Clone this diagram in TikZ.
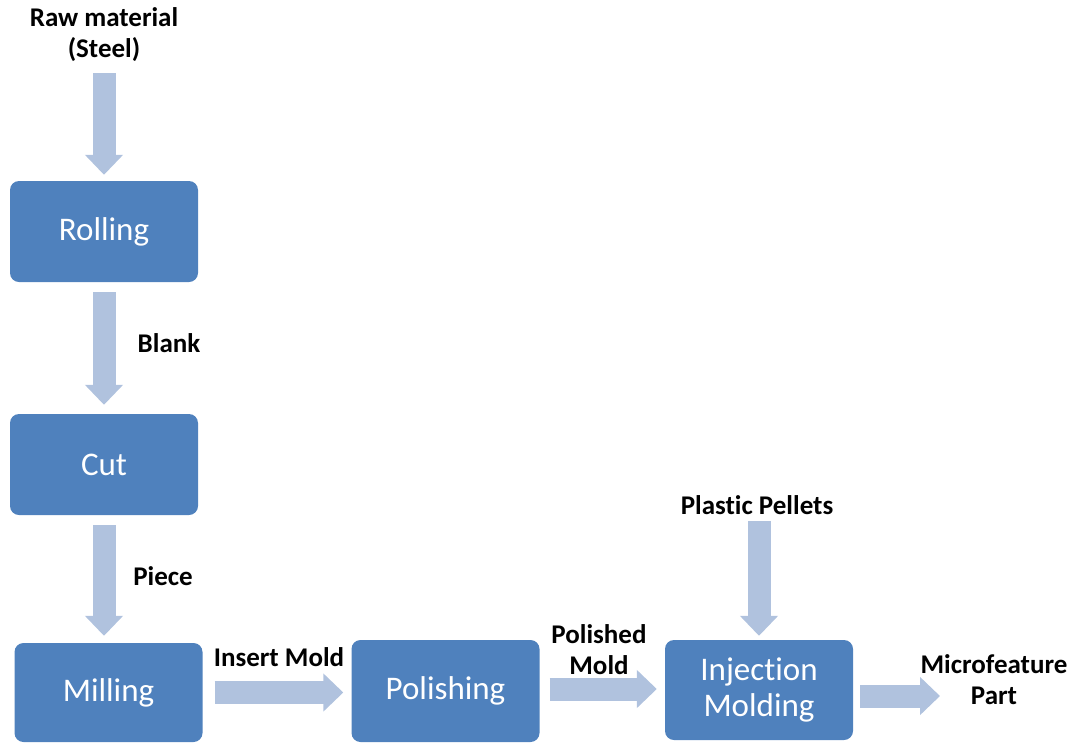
\documentclass[tikz,border=0pt]{standalone}
\usepackage{fontspec}
\setmainfont{Carlito}[Ligatures=NoCommon]
\usetikzlibrary{
  arrows.meta,
  calc
}
\definecolor{stepblue}{HTML}{4F81BD}
\definecolor{flowblue}{HTML}{B0C2DE}

\begin{document}
\begin{tikzpicture}[x=1pt,y=-1pt]
  \tikzset{
    stepbox/.style = {
      rectangle,
      rounded corners=9pt,
      fill=stepblue,
      text=white,
      minimum width=188pt,
      minimum height=101pt,
      inner sep=0pt,
      align=center,
      font=\fontsize{33}{36}\selectfont,
    },
    flowlabel/.style = {
      inner sep=0pt,
      align=center,
      font=\fontsize{27}{31}\selectfont\bfseries,
    },
    flowarrow/.style = {
      draw=flowblue,
      line width=23pt,
      -{Triangle[length=20pt,width=37pt,color=flowblue]},
    },
  }
  \useasboundingbox (0,0) rectangle (1075,742);

  % process steps
  \node[stepbox] (rolling) at (104,231.5) {Rolling};
  \node[stepbox] (cut) at (104,464.5) {Cut};
  \node[stepbox, minimum height=99pt] (milling) at (108.5,692.5) {Milling};
  \node[stepbox, minimum height=102pt] (polishing) at (445.5,691) {Polishing};
  \node[stepbox, minimum height=100pt] (injection) at (759,690) {Injection\\Molding};

  % inputs and products
  \node[flowlabel] (raw) at (104,35) {Raw material\\(Steel)};
  \node[flowlabel] (blank) at (169,343) {Blank};
  \node[flowlabel] (piece) at (163,576) {Piece};
  \node[flowlabel] (insert) at (279,657) {Insert Mold};
  \node[flowlabel] (polished) at (599,650) {Polished\\Mold};
  \node[flowlabel] (pellets) at (757,505) {Plastic Pellets};
  \node[flowlabel] (part) at (994,680) {Microfeature\\Part};
  \coordinate (partin) at (940,696);

  % vertical flow
  \draw[flowarrow, shorten <=11pt, shorten >=6pt] (raw.south) -- (raw.south |- rolling.north);
  \draw[flowarrow, shorten <=10pt, shorten >=9pt] (rolling.south) -- (cut.north);
  \draw[flowarrow, shorten <=10pt, shorten >=7pt] (cut.south) -- (cut.south |- milling.north);
  \draw[flowarrow, shorten <=6pt, shorten >=4pt] (injection.north |- pellets.south) -- (injection.north);

  % horizontal flow
  \draw[flowarrow, shorten <=12pt, shorten >=8pt]
    (milling.east) -- (milling.east -| polishing.west);
  \draw[flowarrow, shorten <=10pt, shorten >=8pt]
    ([yshift=2pt]polishing.east) -- ([yshift=2pt]polishing.east -| injection.west);
  \draw[flowarrow, shorten <=7pt]
    (injection.east |- partin) -- (partin);
\end{tikzpicture}
\end{document}
